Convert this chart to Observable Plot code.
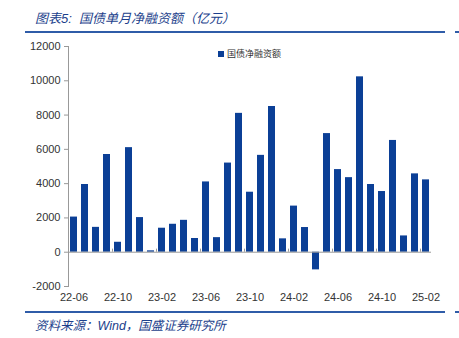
<!DOCTYPE html>
<html><head><meta charset="utf-8">
<script src="https://cdn.jsdelivr.net/npm/d3@7"></script>
<script src="https://cdn.jsdelivr.net/npm/@observablehq/plot@0.6"></script>
<style>
body{margin:0;background:#fff;width:459px;height:338px;overflow:hidden;position:relative;font-family:"Liberation Sans",Arial,sans-serif;}
#chart{position:absolute;left:0;top:0;}
.title{position:absolute;left:35px;top:8px;font-size:13px;font-style:italic;color:#1c3f8c;font-family:"Liberation Sans","Noto Sans CJK SC",sans-serif;white-space:nowrap;}
.src{position:absolute;left:35px;top:315px;font-size:12.5px;font-style:italic;color:#1c3f8c;font-family:"Liberation Sans","Noto Sans CJK SC",sans-serif;white-space:nowrap;}
.line{position:absolute;height:2px;background:#2f5ca8;}
.leg{position:absolute;left:218px;top:47px;font-size:9px;color:#333;font-family:"Noto Sans CJK SC",sans-serif;white-space:nowrap;}
.leg i{display:inline-block;width:6px;height:6px;background:#0b3f96;margin-right:3px;vertical-align:0px;}
</style></head><body>
<div id="chart"></div>
<div class="title">图表5:&nbsp; 国债单月净融资额（亿元）</div>
<div class="line" style="left:25px;top:31px;width:420px"></div>
<div class="line" style="left:455px;top:31px;width:4px"></div>
<div class="line" style="left:25px;top:311px;width:420px"></div>
<div class="line" style="left:455px;top:311px;width:4px"></div>
<div class="src">资料来源：Wind，国盛证券研究所</div>
<div class="leg"><i></i>国债净融资额</div>
<script>
const months = ["22-06","22-07","22-08","22-09","22-10","22-11","22-12","23-01","23-02","23-03","23-04","23-05","23-06","23-07","23-08","23-09","23-10","23-11","23-12","24-01","24-02","24-03","24-04","24-05","24-06","24-07","24-08","24-09","24-10","24-11","24-12","25-01","25-02"];
const netFinancing = [2050,3950,1450,5700,580,6100,2020,80,1400,1630,1860,800,4100,850,5200,8100,3500,5650,8500,780,2690,1440,-1030,6920,4820,4350,10230,3950,3540,6520,950,4570,4220];
const tickMonths = ["22-06","22-10","23-02","23-06","23-10","24-02","24-06","24-10","25-02"];
const yTicks = [-2000,0,2000,4000,6000,8000,10000,12000];
const data = months.map((m,i)=>({month:m, value:netFinancing[i]}));

const plot = Plot.plot({
  width: 459, height: 338,
  marginTop: 46, marginBottom: 52, marginLeft: 68, marginRight: 28,
  style: {fontFamily: "'Liberation Sans', Arial, sans-serif", fontSize: "11px", color: "#333", background: "transparent"},
  x: {type: "band", domain: months, paddingInner: 0.4, paddingOuter: 0.2, label: null},
  y: {domain: [-2000, 12000], label: null},
  marks: [
    Plot.frame({anchor: "left", stroke: "#999"}),
    Plot.barY(data, {x: "month", y: "value", fill: "#0b3f96"}),
    Plot.ruleY([0], {stroke: "#999"}),
    Plot.ruleX(tickMonths.slice(1), {x: d => d, y1: 0, y2: 180, stroke: "#999", dx: -5.5}),
    Plot.axisY({ticks: yTicks, tickFormat: d => String(d), tickSize: 4, tickPadding: 4, stroke: "#999", fill: "#333", fontSize: 11}),
    Plot.axisX({ticks: tickMonths, tickSize: 0, tickPadding: 7, fill: "#333", fontSize: 11})
  ]
});
document.getElementById("chart").appendChild(plot);
</script>
</body></html>
